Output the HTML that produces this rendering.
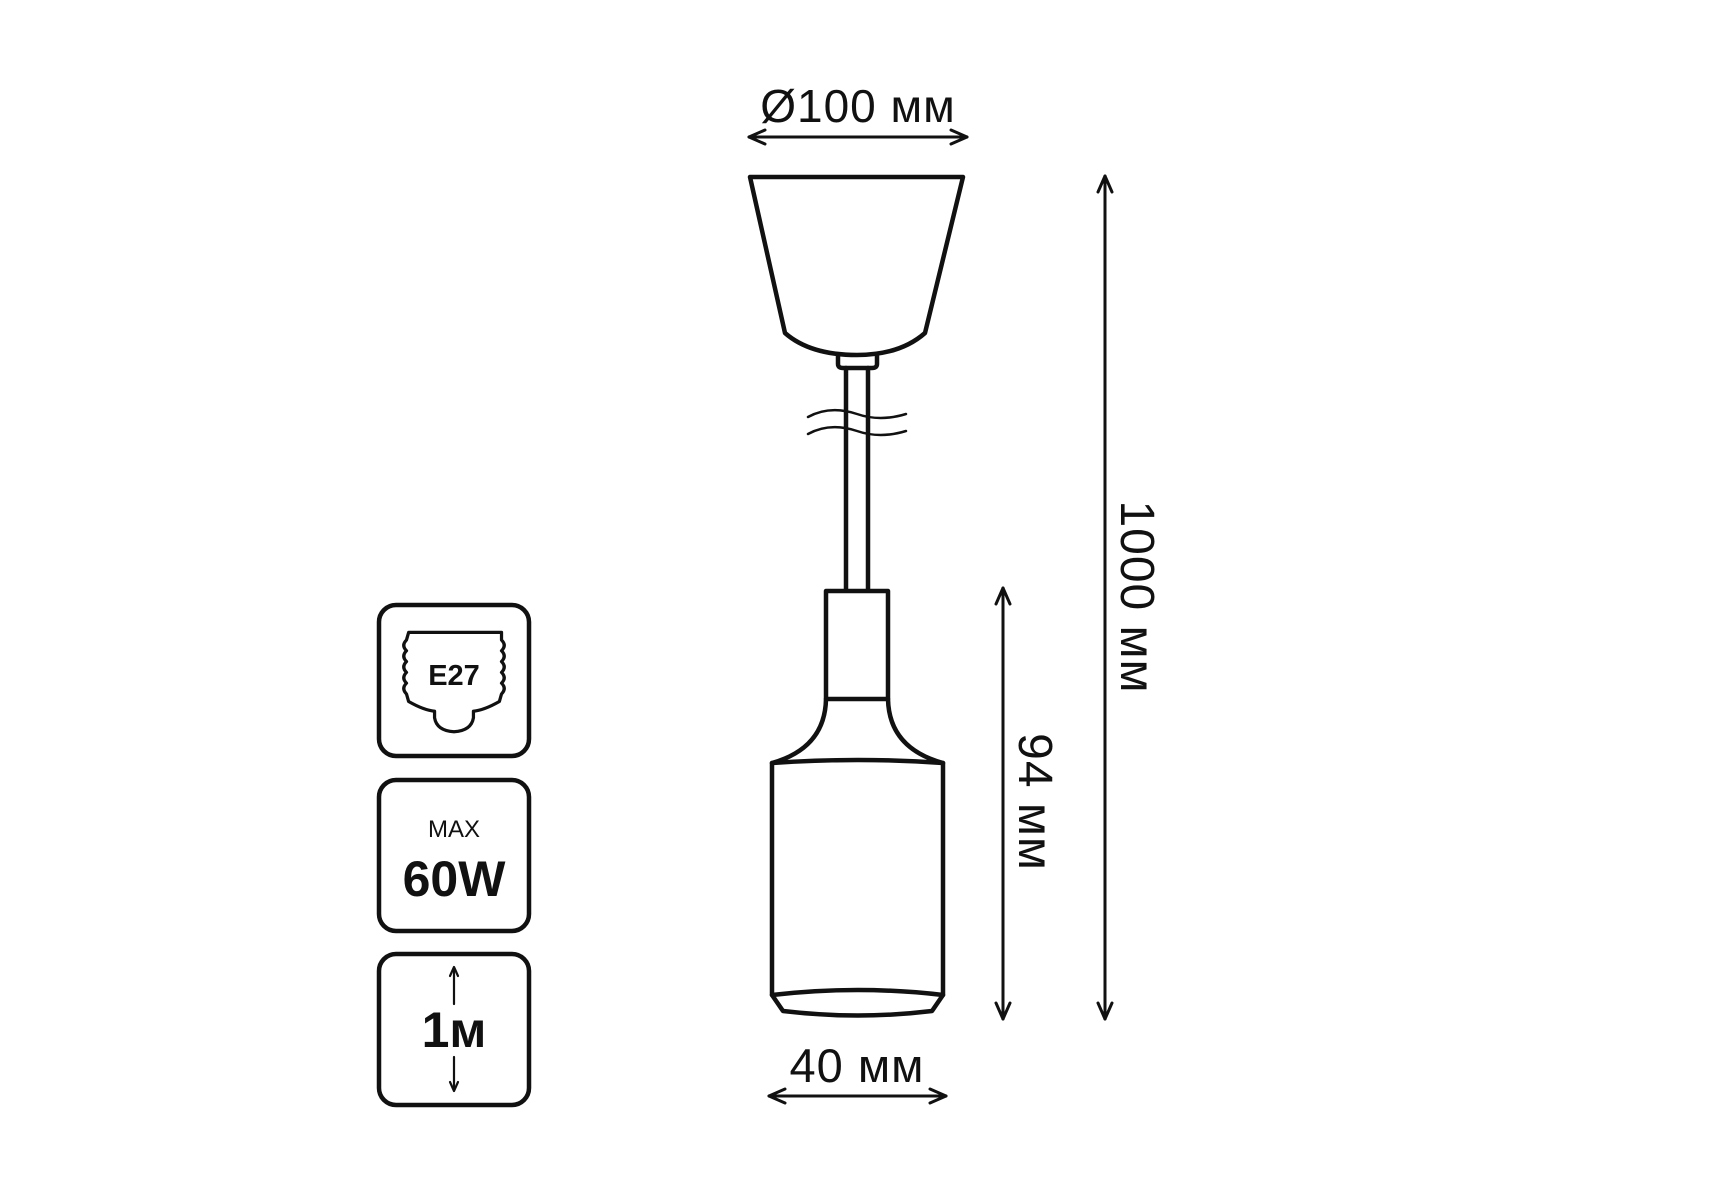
<!DOCTYPE html>
<html><head><meta charset="utf-8"><style>
html,body{margin:0;padding:0;background:#fff;}
svg{display:block;}
text{font-family:"Liberation Sans",sans-serif;fill:#111;}
</style></head><body>
<svg width="1715" height="1200" viewBox="0 0 1715 1200" xmlns="http://www.w3.org/2000/svg">
<g fill="none" stroke="#111" stroke-width="4.5" stroke-linejoin="round" stroke-linecap="round">
  <!-- canopy -->
  <path d="M750,177 L963,177 L925,333 Q900,355 857,355 Q810,355 785,333 Z"/>
  <path d="M838,355 L838,364 Q838,368 843,368 L872,368 Q877,368 877,364 L877,355"/>
  <!-- cord -->
  <line x1="846" y1="368" x2="846" y2="591"/>
  <line x1="868" y1="368" x2="868" y2="591"/>
  <path d="M808,417 Q830,405 857,414 Q880,422 906,414" stroke-width="2.5"/>
  <path d="M808,434 Q830,422 857,431 Q880,439 906,431" stroke-width="2.5"/>
  <!-- socket -->
  <rect x="826" y="591" width="62" height="108" fill="#fff"/>
  <path d="M826,699 Q825,748 772,763 Q858,757 943,763 Q889,748 888,699"/>
  <path d="M772,763 L772,995 Q858,985 943,995 L943,763"/>
  <path d="M772,995 L783,1011 Q858,1020 932,1011 L943,995"/>
  <!-- dimension lines -->
  <g stroke-width="3">
    <line x1="749" y1="137" x2="967" y2="137"/>
    <polyline points="765,130 749,137 765,144"/>
    <polyline points="951,130 967,137 951,144"/>
    <line x1="1105" y1="176" x2="1105" y2="1019"/>
    <polyline points="1098,192 1105,176 1112,192"/>
    <polyline points="1098,1003 1105,1019 1112,1003"/>
    <line x1="1003" y1="588" x2="1003" y2="1019"/>
    <polyline points="996,604 1003,588 1010,604"/>
    <polyline points="996,1003 1003,1019 1010,1003"/>
    <line x1="769" y1="1096" x2="946" y2="1096"/>
    <polyline points="785,1089 769,1096 785,1103"/>
    <polyline points="930,1089 946,1096 930,1103"/>
  </g>
  <!-- icon boxes -->
  <rect x="379" y="605" width="150" height="151" rx="17"/>
  <rect x="379" y="780" width="150" height="151" rx="17"/>
  <rect x="379" y="954" width="150" height="151" rx="17"/>
  <!-- E27 socket icon -->
  <g transform="translate(454,681) scale(1.08) translate(-452,-678)">
  <path d="M410,633 L496,633 L496,640 Q501,645 496,650 Q501,655 496,660 Q501,665 496,670 Q501,675 496,680 Q501,685 496,690 L494,697 Q480,705 470,706 L470,712 Q468,724 452,725 Q436,724 434,712 L434,706 Q424,705 410,697 L408,690 Q403,685 408,680 Q403,675 408,670 Q403,665 408,660 Q403,655 408,650 Q403,645 408,640 Z" stroke-width="3"/>
  </g>
  <!-- 1m arrows -->
  <g stroke-width="2.2">
    <line x1="454" y1="968" x2="454" y2="1004"/>
    <polyline points="450,976 454,967 458,976"/>
    <line x1="454" y1="1057" x2="454" y2="1090"/>
    <polyline points="450,1082 454,1091 458,1082"/>
  </g>
</g>
<text x="858" y="122" font-size="46" text-anchor="middle" letter-spacing="1">Ø100 мм</text>
<text x="857" y="1082" font-size="47" text-anchor="middle" letter-spacing="1">40 мм</text>
<text transform="translate(1121,597) rotate(90)" font-size="48" text-anchor="middle" letter-spacing="1">1000 мм</text>
<text transform="translate(1019,802) rotate(90)" font-size="48" text-anchor="middle" letter-spacing="1">94 мм</text>
<text x="454" y="685" font-size="29" font-weight="bold" text-anchor="middle">E27</text>
<text x="454" y="837" font-size="24" text-anchor="middle">MAX</text>
<text x="454" y="896" font-size="50" font-weight="bold" text-anchor="middle">60W</text>
<text x="454" y="1047" font-size="50" font-weight="bold" text-anchor="middle">1м</text>
</svg>
</body></html>
